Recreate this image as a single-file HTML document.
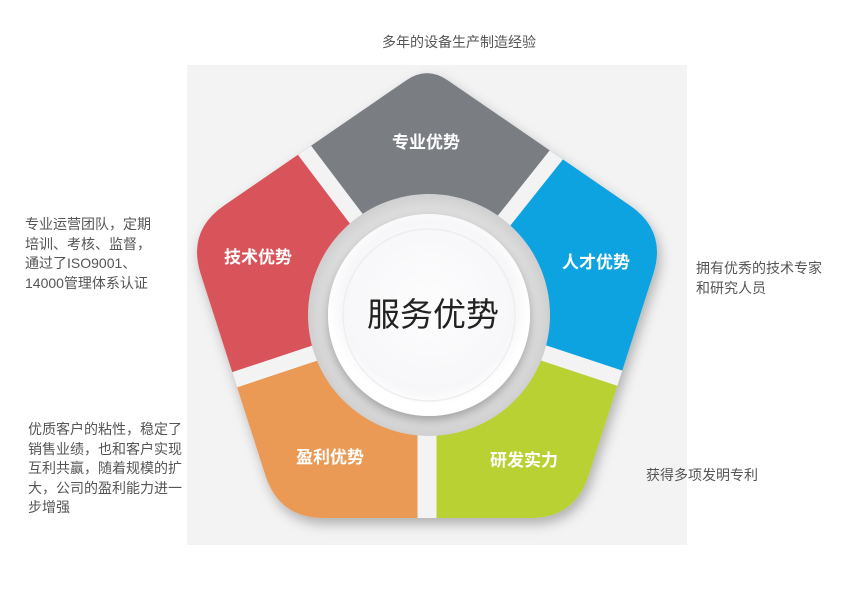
<!DOCTYPE html>
<html><head><meta charset="utf-8"><style>
html,body{margin:0;padding:0;background:#fff;width:850px;height:603px;overflow:hidden;}
body{position:relative;font-family:"Liberation Sans","Noto Sans CJK SC",sans-serif;}
.t{position:absolute;color:#555;font-size:14px;line-height:20px;white-space:nowrap;}
svg{display:block;}
</style></head><body>
<svg width="850" height="603" viewBox="0 0 850 603" style="position:absolute;left:0;top:0;overflow:hidden">
<defs>
<clipPath id="pent"><path d="M406.4,80.2 Q427,66 447.6,80.2 L629.9,205.5 Q667,231 653.3,273.9 L588.7,475.1 Q575,518 530,518 L324,518 Q279,518 265.3,475.1 L200.7,273.9 Q187,231 224.1,205.5 Z"/></clipPath>
<filter id="sh" x="-20%" y="-20%" width="140%" height="140%"><feDropShadow dx="3" dy="6" stdDeviation="6" flood-color="#000" flood-opacity="0.28"/></filter>
<filter id="sh2" x="-20%" y="-20%" width="140%" height="140%"><feDropShadow dx="0" dy="4" stdDeviation="5" flood-color="#000" flood-opacity="0.3"/></filter>
<radialGradient id="ring" cx="50%" cy="50%" r="50%"><stop offset="80%" stop-color="#e6e6e6"/><stop offset="100%" stop-color="#cfcfcf"/></radialGradient>
<radialGradient id="wh" cx="50%" cy="45%" r="50%"><stop offset="0%" stop-color="#fdfdfe"/><stop offset="85%" stop-color="#f7f7f9"/><stop offset="100%" stop-color="#ffffff"/></radialGradient>
</defs>
<rect x="187" y="65" width="500" height="480" fill="#f3f3f4"/>
<g filter="url(#sh)">
<g clip-path="url(#pent)">
<polygon points="429,315 132,-78 732,-66" fill="#7a7e82"/>
<polygon points="429,315 132,-78 -100,-78 -30,468" fill="#d9525a"/>
<polygon points="429,315 -30,468 -30,900 427,900" fill="#eb9a56"/>
<polygon points="429,315 427,900 900,900 891,468" fill="#b9d131"/>
<polygon points="429,315 891,468 900,-66 732,-66" fill="#0aa2e0"/>
<g stroke="#f3f3f4" stroke-linecap="butt">
<line x1="429" y1="315" x2="132" y2="-78" stroke-width="16"/>
<line x1="429" y1="315" x2="-30" y2="468" stroke-width="16"/>
<line x1="427" y1="315" x2="427" y2="600" stroke-width="19"/>
<line x1="429" y1="315" x2="891" y2="468" stroke-width="16"/>
<line x1="429" y1="315" x2="732" y2="-66" stroke-width="16"/>
</g>
</g>
</g>
<circle cx="429" cy="315" r="121" fill="url(#ring)"/>
<circle cx="429" cy="315" r="101" fill="url(#wh)" filter="url(#sh2)"/>
<circle cx="429" cy="315" r="86" fill="none" stroke="#eeeef0" stroke-width="1.5"/>
<g font-family="Liberation Sans, Noto Sans CJK SC, sans-serif" font-weight="bold" font-size="17" fill="#fff" text-anchor="middle">
<text x="426" y="148">专业优势</text>
<text x="258" y="263">技术优势</text>
<text x="596" y="268">人才优势</text>
<text x="330" y="463">盈利优势</text>
<text x="524" y="466">研发实力</text>
</g>
<text x="433" y="326" font-family="Liberation Sans, Noto Sans CJK SC, sans-serif" font-size="33" fill="#222" text-anchor="middle">服务优势</text>
</svg>
<div class="t" style="left:382px;top:32px;">多年的设备生产制造经验</div>
<div class="t" style="left:25px;top:215px;line-height:19.5px;">专业运营团队，定期<br>培训、考核、监督，<br>通过了ISO9001、<br>14000管理体系认证</div>
<div class="t" style="left:696px;top:258px;">拥有优秀的技术专家<br>和研究人员</div>
<div class="t" style="left:28px;top:420px;line-height:19.5px;">优质客户的粘性，稳定了<br>销售业绩，也和客户实现<br>互利共赢，随着规模的扩<br>大，公司的盈利能力进一<br>步增强</div>
<div class="t" style="left:646px;top:465px;">获得多项发明专利</div>
</body></html>
